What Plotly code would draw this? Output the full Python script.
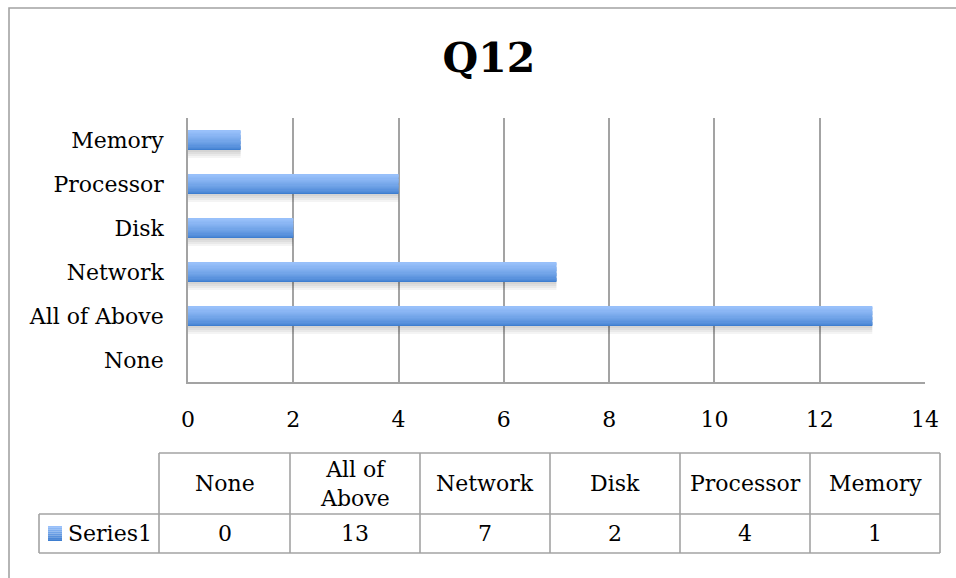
import plotly.graph_objects as go

# Survey answers for Q12 (bottom-to-top order on the chart, left-to-right in the table)
categories = ["None", "All of Above", "Network", "Disk", "Processor", "Memory"]
table_headers = ["None", "All of<br>Above", "Network", "Disk", "Processor", "Memory"]
values = [0, 13, 7, 2, 4, 1]
series_name = "Series1"
x_ticks = [0, 2, 4, 6, 8, 10, 12, 14]

W, H = 956, 578
FONT = "DejaVu Serif"
GRID = "#a3a3a3"
TXT = 22


def px(x):
    return x / W


def py(y):
    return 1 - y / H


def mix(c1, c2, t):
    return "rgb({},{},{})".format(*[round(a + (b - a) * t) for a, b in zip(c1, c2)])


fig = go.Figure()

bar_w = 0.45
row_px = 44.0  # height of one category band
light = (152, 192, 250)
dark = (62, 126, 208)

# soft drop shadow under each bar: stacked translucent copies shifted downward
for d in [8, 6, 4, 2]:
    fig.add_trace(go.Bar(
        x=values, y=categories, orientation="h",
        width=bar_w, offset=-bar_w / 2 - d / row_px,
        marker=dict(color="rgba(0,0,0,0.045)", line=dict(width=0)),
        hoverinfo="skip", showlegend=False,
    ))

# vertical gradient built from thin horizontal strips of each bar
n_strips = 16
strip = bar_w / n_strips
for i in range(n_strips):
    t = i / (n_strips - 1)
    fig.add_trace(go.Bar(
        x=values, y=categories, orientation="h",
        width=strip * 1.05, offset=-bar_w / 2 + i * strip,
        marker=dict(color=mix(dark, light, t ** 0.7), line=dict(width=0)),
        hoverinfo="skip", showlegend=False, name=series_name,
    ))

fig.update_layout(
    width=W, height=H,
    margin=dict(l=0, r=0, t=0, b=0, autoexpand=False),
    paper_bgcolor="white", plot_bgcolor="white",
    barmode="overlay",
    showlegend=False,
    font=dict(family=FONT, size=TXT, color="black"),
    title=dict(
        text="<b>Q12</b>", x=px(489), y=py(58), xanchor="center", yanchor="middle",
        xref="paper", yref="paper",
        font=dict(family=FONT, size=41, color="black"),
    ),
    xaxis=dict(
        domain=[px(188), px(925)], range=[0, 14], automargin=False,
        tickvals=x_ticks, ticks="", showgrid=True, gridcolor=GRID, gridwidth=1.6,
        zeroline=False, showline=True, linecolor=GRID, linewidth=1.6,
        ticklabelstandoff=17, tickfont=dict(size=TXT),
    ),
    yaxis=dict(
        domain=[py(382), py(118)], type="category", automargin=False,
        categoryorder="array", categoryarray=categories,
        range=[-0.5, len(categories) - 0.5],
        ticks="", showgrid=False, zeroline=False,
        showline=True, linecolor=GRID, linewidth=1.6,
        ticklabelstandoff=18, tickfont=dict(size=TXT),
    ),
)

shapes = []
annotations = []

# outer chart frame (right and bottom edges run past the page)
shapes.append(dict(type="rect", xref="paper", yref="paper",
                   x0=px(9), x1=1.03, y0=-0.03, y1=py(8),
                   line=dict(color=GRID, width=1.6), layer="below"))

# data table grid
col_edges = [159, 290, 420, 550, 680, 810, 940]
row_top, row_mid, row_bot = 453, 514, 553
legend_left = 39
line = dict(color=GRID, width=1.6)
shapes.append(dict(type="line", xref="paper", yref="paper",
                   x0=px(col_edges[0]), x1=px(col_edges[-1]), y0=py(row_top), y1=py(row_top), line=line))
shapes.append(dict(type="line", xref="paper", yref="paper",
                   x0=px(legend_left), x1=px(col_edges[-1]), y0=py(row_mid), y1=py(row_mid), line=line))
shapes.append(dict(type="line", xref="paper", yref="paper",
                   x0=px(legend_left), x1=px(col_edges[-1]), y0=py(row_bot), y1=py(row_bot), line=line))
shapes.append(dict(type="line", xref="paper", yref="paper",
                   x0=px(legend_left), x1=px(legend_left), y0=py(row_mid), y1=py(row_bot), line=line))
for xe in col_edges:
    shapes.append(dict(type="line", xref="paper", yref="paper",
                       x0=px(xe), x1=px(xe), y0=py(row_top), y1=py(row_bot), line=line))

# header and value cells
for j, (hdr, val) in enumerate(zip(table_headers, values)):
    cx = (col_edges[j] + col_edges[j + 1]) / 2
    annotations.append(dict(text=hdr, x=px(cx), y=py((row_top + row_mid) / 2),
                            xref="paper", yref="paper", showarrow=False,
                            xanchor="center", yanchor="middle",
                            font=dict(size=TXT), align="center"))
    annotations.append(dict(text=str(val), x=px(cx), y=py((row_mid + row_bot) / 2),
                            xref="paper", yref="paper", showarrow=False,
                            xanchor="center", yanchor="middle", font=dict(size=TXT)))

# legend key swatch in the series cell
sw_x0, sw_x1, sw_y0, sw_y1 = 48, 62, 526, 541
n_sw = 8
for i in range(n_sw):
    t = i / (n_sw - 1)
    y0 = sw_y0 + (sw_y1 - sw_y0) * i / n_sw
    y1 = sw_y0 + (sw_y1 - sw_y0) * (i + 1) / n_sw
    shapes.append(dict(type="rect", xref="paper", yref="paper",
                       x0=px(sw_x0), x1=px(sw_x1), y0=py(y1), y1=py(y0),
                       fillcolor=mix(light, dark, t), line=dict(width=0)))
annotations.append(dict(text=series_name, x=px(66), y=py((row_mid + row_bot) / 2),
                        xref="paper", yref="paper", showarrow=False,
                        xanchor="left", yanchor="middle", font=dict(size=TXT)))

fig.update_layout(shapes=shapes, annotations=annotations)

fig.write_html("out.html", config={"displayModeBar": False})
